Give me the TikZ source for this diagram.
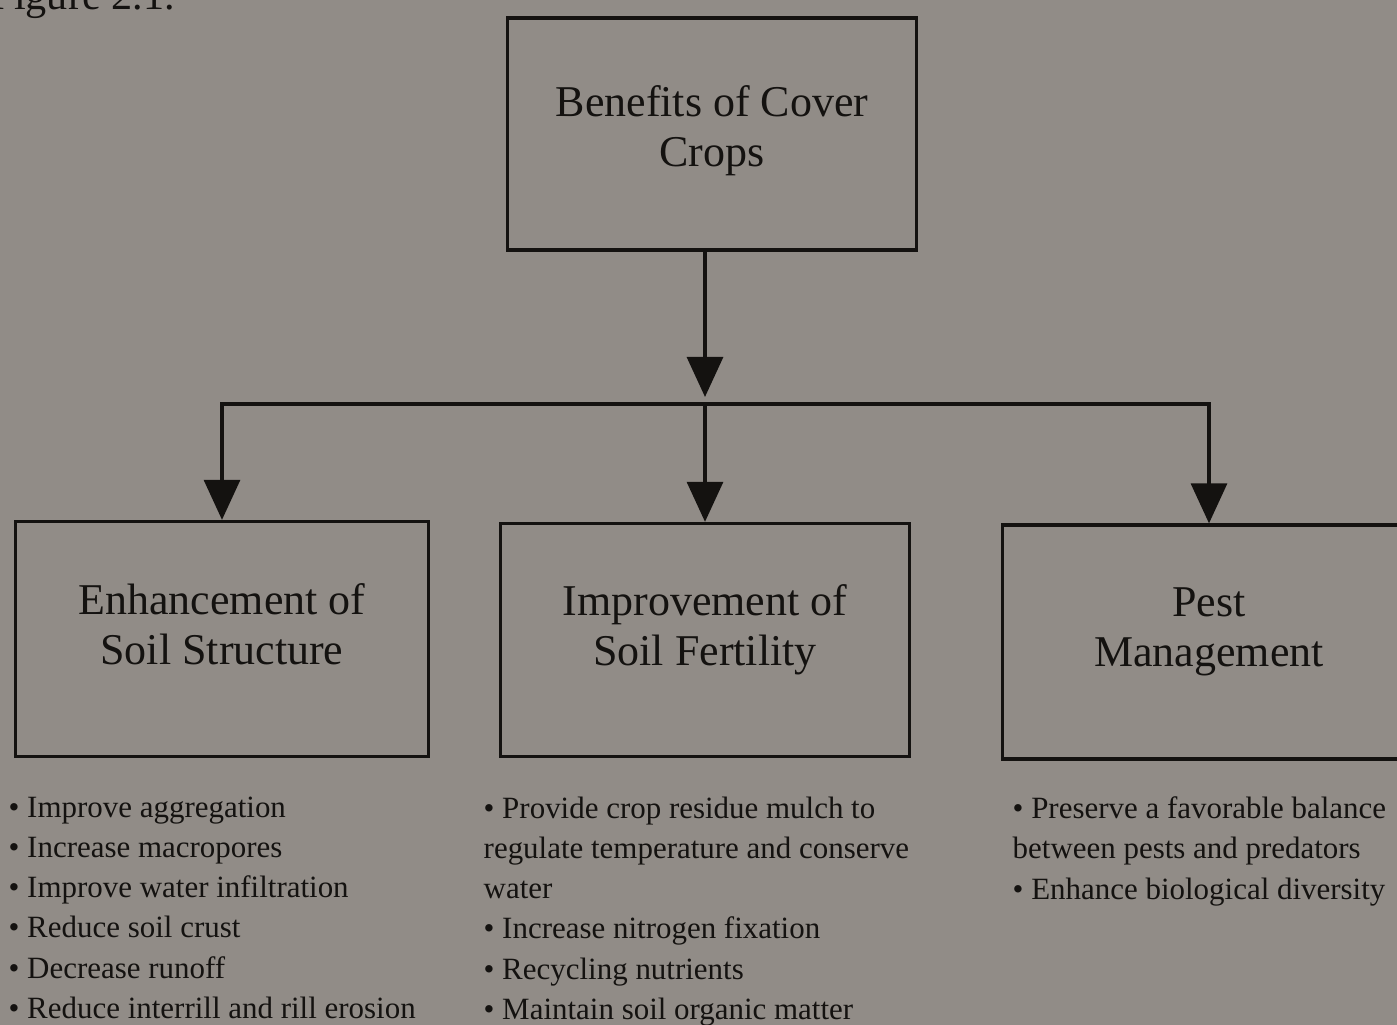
\documentclass[tikz,border=0pt]{standalone}
\usepackage{fontspec}
\setmainfont{Liberation Serif}
\usetikzlibrary{arrows.meta,positioning}
\definecolor{pageGray}{RGB}{145,140,135}
\definecolor{inkBlack}{RGB}{20,18,16}
\tikzset{
  topic/.style={draw=inkBlack, line width=0.9pt, align=center, text=inkBlack, font=\fontsize{12.5}{14.2}\selectfont, text depth=0.3cm},
  arrow/.style={-{Triangle[width=3.6mm,length=4mm]}, line width=0.9pt, draw=inkBlack},
  link/.style={line width=0.9pt, draw=inkBlack},
  note/.style={align=left, anchor=north west, inner sep=0pt, text=inkBlack, font=\fontsize{8.8}{11.45}\selectfont}
}

\begin{document}
\begin{tikzpicture}[x=0.01cm, y=-0.01cm]
  \fill[pageGray] (0,0) rectangle (1397,1025);
  \useasboundingbox (0,0) rectangle (1397,1025);

  \node[anchor=base west, inner sep=0pt, text=inkBlack, font=\fontsize{12}{14}\selectfont] (figlabel) at (-10,10) {Figure 2.1.};

  \node[topic, text depth=0.16cm, minimum width=4.08cm, minimum height=2.32cm] (cover) at (712,134) {Benefits of Cover\\Crops};

  \node[topic, minimum width=4.12cm, minimum height=2.35cm] (soil) at (222,639) {Enhancement of\\Soil Structure};
  \node[topic, minimum width=4.09cm, minimum height=2.33cm] (fert) at (705,640) {Improvement of\\Soil Fertility};
  \node[topic, minimum width=4.12cm, minimum height=2.34cm] (pest) at (1209,642) {Pest\\Management};

  \coordinate (split) at (705,404);
  \draw[arrow, shorten >=2pt] (cover.south -| split) -- (split);
  \draw[link] (soil.north |- split) -- (pest.north |- split);
  \draw[arrow] (split) -| (soil.north);
  \draw[arrow] (split) -- (fert.north);
  \draw[arrow] (split) -| (pest.north);

  \node[note] (soilList) at (8,796) {\textbullet{} Improve aggregation\\\textbullet{} Increase macropores\\\textbullet{} Improve water infiltration\\\textbullet{} Reduce soil crust\\\textbullet{} Decrease runoff\\\textbullet{} Reduce interrill and rill erosion};
  \node[note] (fertList) at (483,796) {\textbullet{} Provide crop residue mulch to\\regulate temperature and conserve\\water\\\textbullet{} Increase nitrogen fixation\\\textbullet{} Recycling nutrients\\\textbullet{} Maintain soil organic matter};
  \node[note] (pestList) at (1012,796) {\textbullet{} Preserve a favorable balance\\between pests and predators\\\textbullet{} Enhance biological diversity};
\end{tikzpicture}
\end{document}
